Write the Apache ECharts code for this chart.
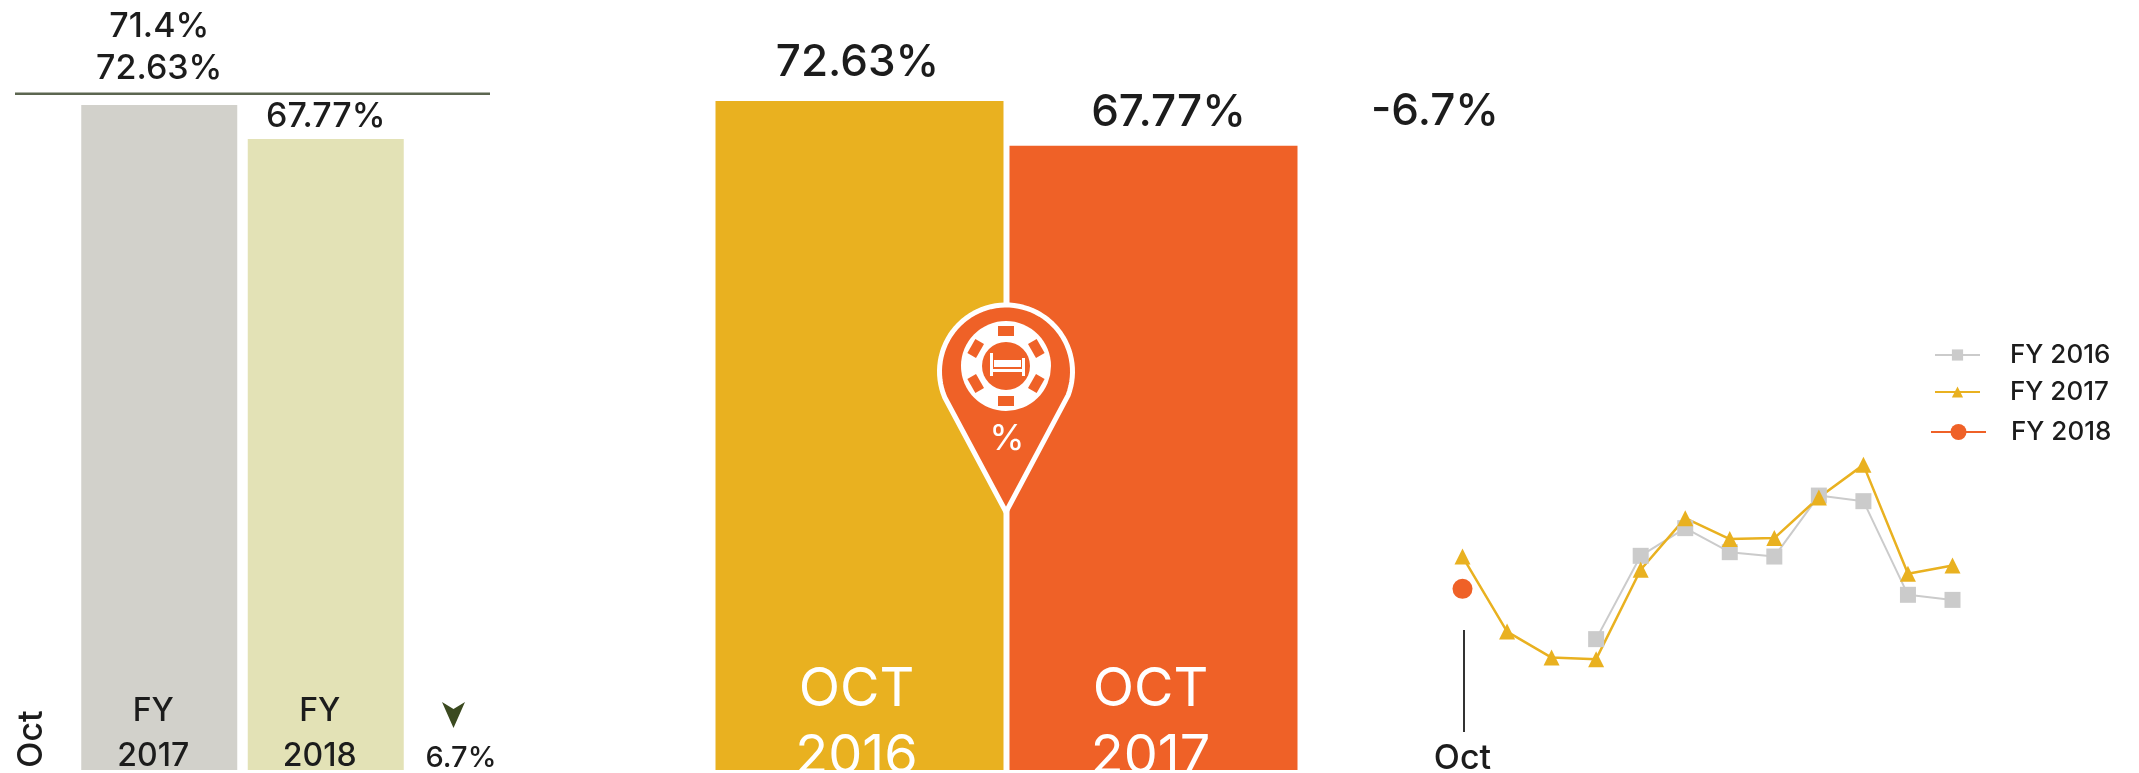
<!DOCTYPE html>
<html>
<head>
<meta charset="utf-8">
<title>Occupancy</title>
<script src="https://cdn.jsdelivr.net/npm/echarts@6/dist/echarts.min.js"></script>
<style>
html, body { margin: 0; padding: 0; background: #fff; }
#chart { width: 2139px; height: 773px; }
</style>
</head>
<body>
<div id="chart"></div>
<script>
// left panel
const fyCategories = ['FY\n2017', 'FY\n2018'];
const fyValues = [71.4, 67.77];
const fyReference = 72.63;
const fyChange = '6.7%';

// middle panel
const octCategories = ['OCT\n2016', 'OCT\n2017'];
const octValues = [72.63, 67.77];
const octChange = '-6.7%';

// right panel
const months = ['Oct', 'Nov', 'Dec', 'Jan', 'Feb', 'Mar', 'Apr', 'May', 'Jun', 'Jul', 'Aug', 'Sep'];
const fy2016 = [null, null, null, 62.12, 71.48, 74.59, 71.89, 71.4, 78.25, 77.62, 67.1, 66.53];
const fy2017 = [71.4, 62.97, 60.05, 59.87, 69.91, 75.71, 73.36, 73.47, 78.03, 81.7, 69.46, 70.39];
const fy2018 = [67.77, null, null, null, null, null, null, null, null, null, null, null];

const FONT = 'Inter';
const INK = '#1c1c1c';
const GOLD = '#e9b120';
const ORANGE = '#ef6127';
const GREY = '#cbcbcb';

const pct = v => v + '%';

// outline of the pin: tip plus an arc round the head
const pinOutline = [[1006, 512]];
for (let deg = -113; deg <= 113; deg += 4) {
  const a = deg * Math.PI / 180;
  pinOutline.push([1006 + 66.5 * Math.sin(a), 371.5 - 66.5 * Math.cos(a)]);
}

// notches of the chip in the pin
const chipNotches = [0, 60, 120, 180, 240, 300].map(deg => {
  const a = deg * Math.PI / 180;
  return {
    type: 'rect',
    x: 1006 + 35 * Math.sin(a),
    y: 366 - 35 * Math.cos(a),
    rotation: -a,
    shape: { x: -8, y: -5, width: 16, height: 10 },
    style: { fill: ORANGE },
    z: 12
  };
});

const chart = echarts.init(document.getElementById('chart'));

chart.setOption({
  animation: false,
  backgroundColor: '#fff',
  textStyle: { fontFamily: FONT },
  legend: [
    { data: ['FY 2016'], left: 1929, top: 337, itemWidth: 45, itemHeight: 14 },
    { data: ['FY 2017'], left: 1929, top: 374, itemWidth: 45, itemHeight: 14 },
    { data: ['FY 2018'], left: 1925, top: 414, itemWidth: 55, itemHeight: 20 }
  ].map((l, i) => ({
    ...l,
    textStyle: { fontFamily: FONT, fontSize: 26, fontWeight: 500, color: INK, padding: [i ? 5 : 1, 0, 0, i === 2 ? 20 : 25] }
  })),
  grid: [
    { left: 76, width: 333, top: 25, height: 745, outerBoundsMode: 'none' },
    { left: 15, width: 475, top: 25, height: 745, outerBoundsMode: 'none' },
    { left: 712.5, width: 588, top: 33, height: 737, outerBoundsMode: 'none' },
    { left: 1462.5, width: 490, top: 391, height: 356, outerBoundsMode: 'none' }
  ],
  xAxis: [
    {
      gridIndex: 0, type: 'category', data: fyCategories, z: 5,
      axisLine: { show: false }, axisTick: { show: false },
      axisLabel: { inside: true, margin: -9, color: INK, fontSize: 32, fontWeight: 500, lineHeight: 45, padding: [0, 12, 0, 0] }
    },
    { gridIndex: 1, type: 'value', min: 0, max: 1, show: false },
    {
      gridIndex: 2, type: 'category', data: octCategories, z: 5,
      axisLine: { show: false }, axisTick: { show: false },
      axisLabel: { inside: true, margin: -20, color: '#fff', fontSize: 54, lineHeight: 67, padding: [0, 6, 0, 0] }
    },
    {
      gridIndex: 3, type: 'category', data: months, boundaryGap: false,
      axisLine: { show: false }, axisTick: { show: false },
      axisLabel: { interval: i => i === 0, margin: -5, color: INK, fontSize: 34, fontWeight: 500 }
    }
  ],
  yAxis: [
    { gridIndex: 0, type: 'value', min: 0, max: 80, show: false },
    { gridIndex: 1, type: 'value', min: 0, max: 80, show: false },
    { gridIndex: 2, type: 'value', min: 0, max: 80, show: false },
    { gridIndex: 3, type: 'value', min: 50, max: 90, show: false }
  ],
  series: [
    {
      type: 'bar', xAxisIndex: 0, yAxisIndex: 0, barWidth: 156,
      data: [
        {
          value: fyValues[0],
          itemStyle: { color: '#d2d1cb' },
          label: { show: true, position: 'top', distance: 15, lineHeight: 42, fontSize: 34, fontWeight: 500, color: INK,
            formatter: pct(fyValues[0]) + '\n' + pct(fyReference) }
        },
        {
          value: fyValues[1],
          itemStyle: { color: '#e3e2b6' },
          label: { show: true, position: 'top', distance: 5, fontSize: 34, fontWeight: 500, color: INK, formatter: pct(fyValues[1]) }
        }
      ]
    },
    {
      type: 'line', xAxisIndex: 1, yAxisIndex: 1, showSymbol: false,
      lineStyle: { color: '#5c6650', width: 2.5 },
      data: [[0, fyReference], [1, fyReference]]
    },
    {
      type: 'bar', xAxisIndex: 2, yAxisIndex: 2, barWidth: 288,
      data: [
        {
          value: octValues[0],
          itemStyle: { color: GOLD },
          label: { show: true, position: 'top', distance: 16, offset: [-2, 0], fontSize: 44, fontWeight: 500, color: INK, formatter: pct(octValues[0]) }
        },
        {
          value: octValues[1],
          itemStyle: { color: ORANGE },
          label: { show: true, position: 'top', distance: 11, offset: [15, 0], fontSize: 44, fontWeight: 500, color: INK, formatter: pct(octValues[1]) }
        }
      ]
    },
    {
      name: 'FY 2016', type: 'line', xAxisIndex: 3, yAxisIndex: 3, data: fy2016,
      symbol: 'rect', symbolSize: 16, showAllSymbol: true,
      itemStyle: { color: GREY }, lineStyle: { color: GREY, width: 2 }
    },
    {
      name: 'FY 2017', type: 'line', xAxisIndex: 3, yAxisIndex: 3, data: fy2017,
      symbol: 'triangle', symbolSize: 16, showAllSymbol: true,
      itemStyle: { color: GOLD }, lineStyle: { color: GOLD, width: 2.5 }
    },
    {
      name: 'FY 2018', type: 'line', xAxisIndex: 3, yAxisIndex: 3, data: fy2018,
      symbol: 'circle', symbolSize: 20, showAllSymbol: true,
      itemStyle: { color: ORANGE }, lineStyle: { color: ORANGE, width: 3 }
    }
  ],
  graphic: [
    // left panel extras
    { type: 'text', x: 32, y: 739, rotation: Math.PI / 2, z: 10,
      style: { text: 'Oct', font: '500 34px ' + FONT, fill: INK, textAlign: 'center', textVerticalAlign: 'middle' } },
    { type: 'polygon', z: 10, shape: { points: [[442, 702], [453.5, 709], [465, 702], [453.5, 728]] }, style: { fill: '#3b4a20' } },
    { type: 'text', x: 461, y: 758, z: 10,
      style: { text: fyChange, font: '500 29px ' + FONT, fill: INK, textAlign: 'center', textVerticalAlign: 'middle' } },
    // middle panel change
    { type: 'text', x: 1435, y: 112, z: 10,
      style: { text: octChange, font: '500 44px ' + FONT, fill: INK, textAlign: 'center', textVerticalAlign: 'middle' } },
    // Oct tick of the line chart
    { type: 'line', z: 10, shape: { x1: 1464, y1: 630, x2: 1464, y2: 732 }, style: { stroke: '#333', lineWidth: 2 } },
    // pin
    { type: 'polygon', z: 11, shape: { points: pinOutline },
      style: { fill: ORANGE, stroke: '#fff', lineWidth: 5, lineJoin: 'round' } },
    { type: 'circle', z: 12, shape: { cx: 1006, cy: 366, r: 45 }, style: { fill: '#fff' } },
    ...chipNotches,
    { type: 'circle', z: 13, shape: { cx: 1006, cy: 366, r: 24 }, style: { fill: ORANGE } },
    // bed
    { type: 'rect', z: 14, shape: { x: 990, y: 353, width: 3, height: 23 }, style: { fill: '#fff' } },
    { type: 'rect', z: 14, shape: { x: 1022, y: 358, width: 3, height: 18 }, style: { fill: '#fff' } },
    { type: 'rect', z: 14, shape: { x: 993, y: 369, width: 29, height: 3 }, style: { fill: '#fff' } },
    { type: 'rect', z: 14, shape: { x: 994, y: 360, width: 27, height: 7 }, style: { fill: '#fff' } },
    { type: 'text', x: 1007, y: 439, z: 14,
      style: { text: '%', font: '36px ' + FONT, fill: '#fff', textAlign: 'center', textVerticalAlign: 'middle' } }
  ]
});
</script>
</body>
</html>
